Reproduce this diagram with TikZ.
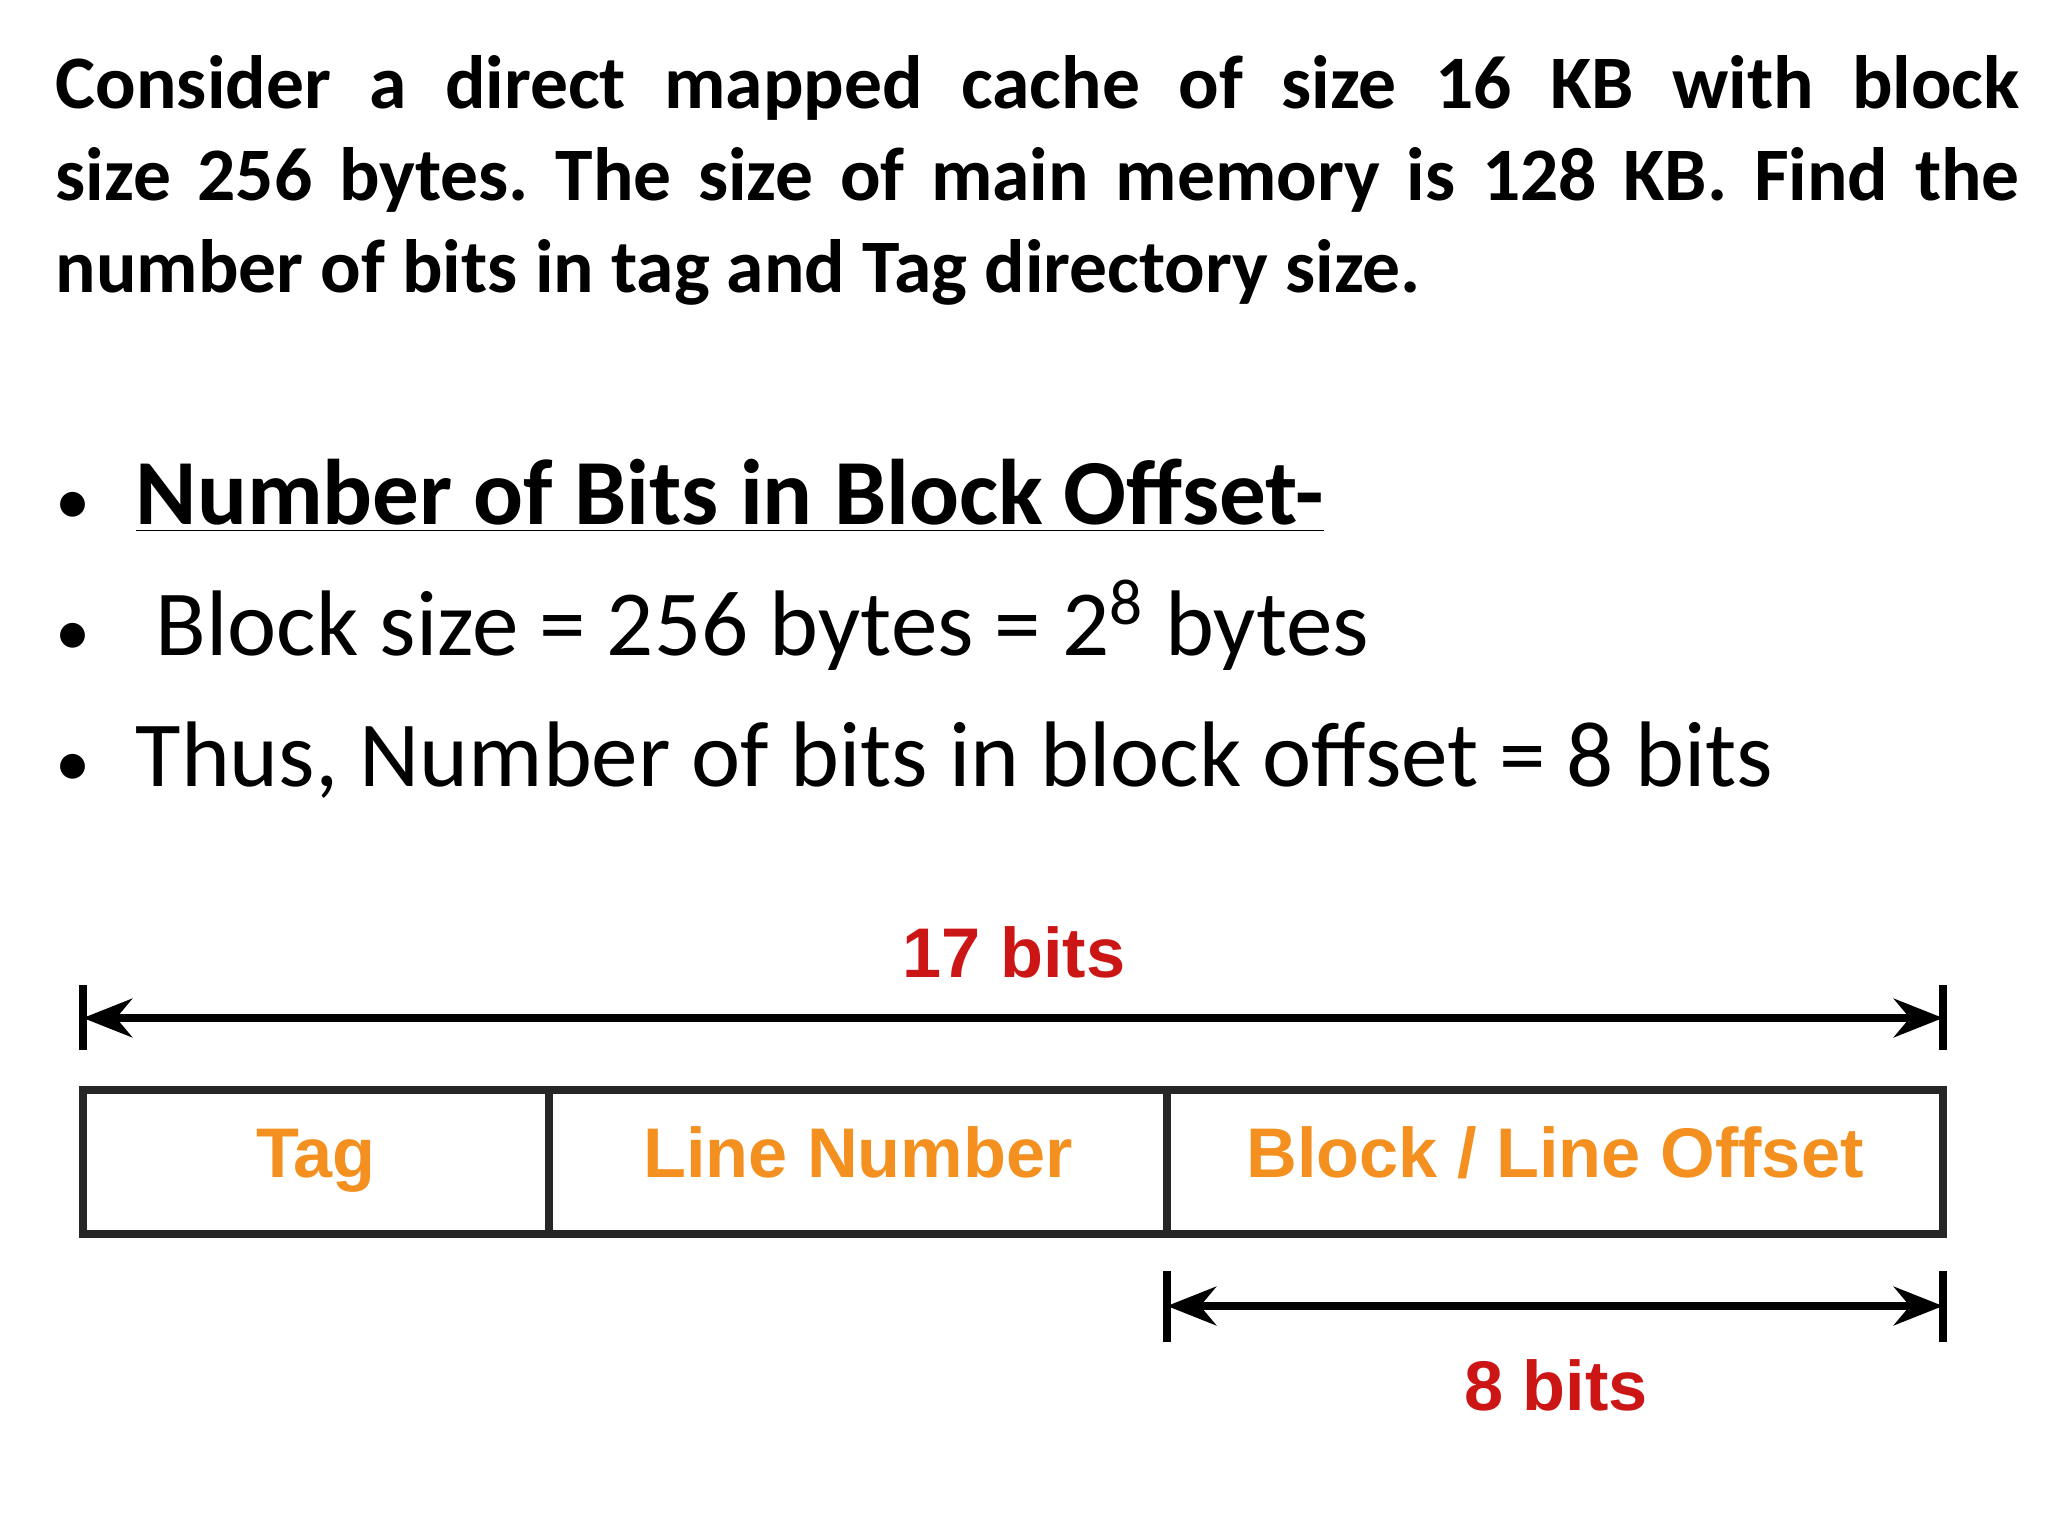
\documentclass[tikz,border=0pt]{standalone}
\usepackage{fontspec}
\setmainfont{Carlito}
\newfontfamily\arialf{Liberation Sans}
\usetikzlibrary{arrows.meta}
\definecolor{lbl}{HTML}{F39020}
\definecolor{redl}{HTML}{CC1616}
\tikzset{
  cell/.style={draw=black!85, line width=2pt, minimum height=1.44cm, inner sep=0pt, text height=1.9ex, text depth=0pt, font=\arialf\bfseries\fontsize{20}{24}\selectfont, text=lbl},
  dim/.style={line width=2pt, {Stealth[length=14pt,width=11pt]}-{Stealth[length=14pt,width=11pt]}},
  tick/.style={line width=2pt},
  redlab/.style={font=\arialf\bfseries\fontsize{20}{24}\selectfont, text=redl},
  bul/.style={anchor=base west, font=\fontsize{26.5}{32}\selectfont, inner sep=0pt}
}
\begin{document}
\frenchspacing
\begin{tikzpicture}
\useasboundingbox (0,0) rectangle (20.48,-15.36);
\node[anchor=north west, inner sep=0pt, text width=19.64cm, align=justify, font=\bfseries\fontsize{21.5}{26.1}\selectfont] (para) at (0.55,-0.55)
{\hyphenpenalty=10000\frenchspacing Consider a direct mapped cache of size 16 KB with block\linebreak size 256 bytes. The size of main memory is 128 KB. Find the\linebreak number of bits in tag and Tag directory size.};
\node[bul] (b1) at (0.55,-5.25) {\fontsize{20}{24}\selectfont\textbullet};
\node[bul] (t1) at (1.35,-5.25) {\bfseries\underline{Number of Bits in Block Offset-}};
\node[bul] (b2) at (0.55,-6.56) {\fontsize{20}{24}\selectfont\textbullet};
\node[bul] (t2) at (1.55,-6.56) {Block size = 256 bytes = 2\textsuperscript{8} bytes};
\node[bul] (b3) at (0.55,-7.87) {\fontsize{20}{24}\selectfont\textbullet};
\node[bul] (t3) at (1.35,-7.87) {Thus, Number of bits in block offset = 8 bits};
% boxes
\node[cell, minimum width=4.66cm] (tag) at (3.16,-11.62) {Tag};
\node[cell, minimum width=6.18cm] (line) at (8.58,-11.62) {Line Number};
\node[cell, minimum width=7.76cm] (off) at (15.55,-11.62) {Block / Line Offset};
% top dimension
\coordinate (tl) at (0.83,-10.18);
\coordinate (tr) at (19.43,-10.18);
\draw[tick] (0.83,-9.85) -- (0.83,-10.5);
\draw[tick] (19.43,-9.85) -- (19.43,-10.5);
\draw[dim] (tl) -- (tr);
\node[redlab] (l17) at (10.14,-9.52) {17 bits};
% bottom dimension
\coordinate (bl) at (11.67,-13.06);
\coordinate (br) at (19.43,-13.06);
\draw[tick] (11.67,-12.71) -- (11.67,-13.42);
\draw[tick] (19.43,-12.71) -- (19.43,-13.42);
\draw[dim] (bl) -- (br);
\node[redlab] (l8) at (15.56,-13.85) {8 bits};
\end{tikzpicture}
\end{document}
